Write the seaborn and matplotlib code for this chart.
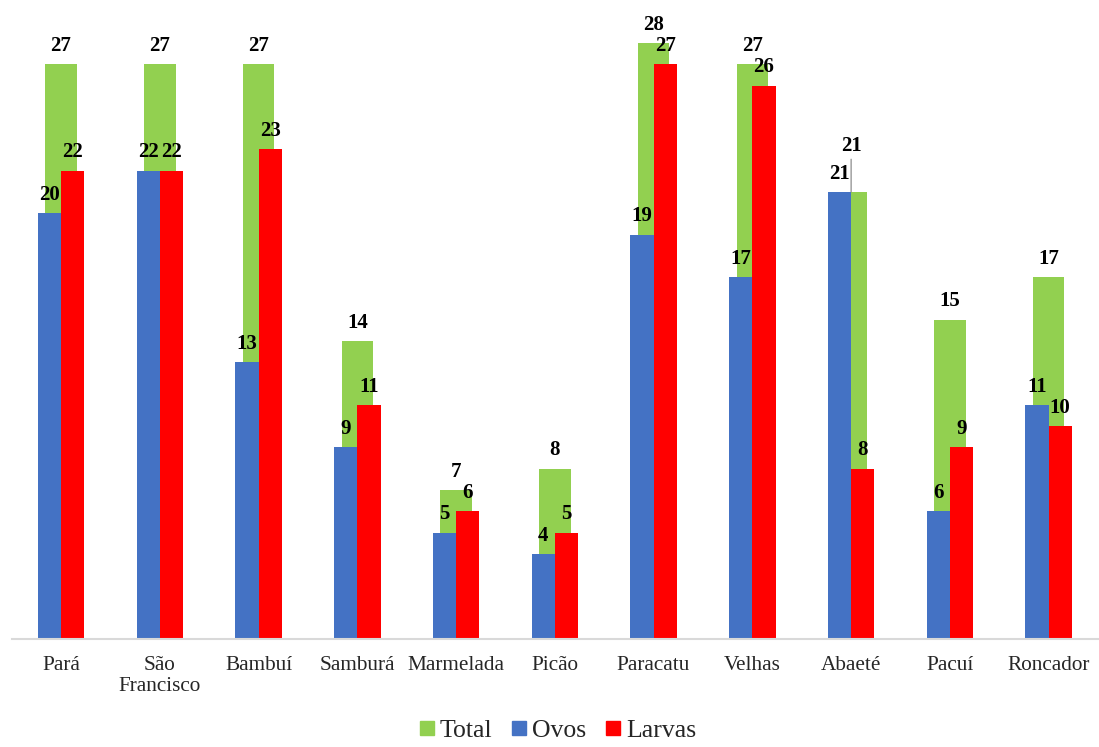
import pandas as pd
import matplotlib.pyplot as plt
import seaborn as sns
from matplotlib.lines import Line2D

# dados
rios = ['Pará', 'São\nFrancisco', 'Bambuí', 'Samburá', 'Marmelada', 'Picão',
        'Paracatu', 'Velhas', 'Abaeté', 'Pacuí', 'Roncador']
total = [27, 27, 27, 14, 7, 8, 28, 27, 21, 15, 17]
ovos = [20, 22, 13, 9, 5, 4, 19, 17, 21, 6, 11]
larvas = [22, 22, 23, 11, 6, 5, 27, 26, 8, 9, 10]

cores = {'Total': '#92D050', 'Ovos': '#4472C4', 'Larvas': '#FF0000'}

sns.set_style("white")
plt.rcParams['font.family'] = ['Liberation Serif', 'DejaVu Serif']

df_total = pd.DataFrame({'rio': rios, 'valor': total})
df_long = pd.DataFrame({
    'rio': rios * 2,
    'valor': ovos + larvas,
    'serie': ['Ovos'] * len(rios) + ['Larvas'] * len(rios),
})

fig = plt.figure(figsize=(10.99, 7.47), dpi=100)
ax = fig.add_axes([0.0106, 0.1446, 0.9885, 0.7978])

# barra do total atrás
sns.barplot(data=df_total, x='rio', y='valor', color=cores['Total'],
            width=0.32, errorbar=None, saturation=1, linewidth=0, ax=ax)
# ovos e larvas lado a lado
sns.barplot(data=df_long, x='rio', y='valor', hue='serie',
            hue_order=['Ovos', 'Larvas'],
            palette=[cores['Ovos'], cores['Larvas']],
            width=0.47, errorbar=None, saturation=1, linewidth=0,
            legend=False, ax=ax)

ax.set_ylim(0, 28)
ax.set_xlim(-0.5, len(rios) - 0.5)

# rótulos de valores
lbl_total = [str(v) if r != 'Abaeté' else '' for r, v in zip(rios, total)]
fonte_lbl = dict(fontsize=15, fontweight='bold', color='black')
ax.bar_label(ax.containers[0], labels=lbl_total, padding=6, **fonte_lbl)
ax.bar_label(ax.containers[1], padding=6, **fonte_lbl)
ax.bar_label(ax.containers[2], padding=6, **fonte_lbl)

# Abaeté: rótulo do total com linha de chamada
i = rios.index('Abaeté')
ax.annotate(str(total[i]), xy=(i, total[i]), xytext=(0, 26),
            textcoords='offset points', ha='center', va='bottom',
            arrowprops=dict(arrowstyle='-', color='#7f7f7f', lw=0.8,
                            shrinkA=0, shrinkB=0),
            **fonte_lbl)

sns.despine(ax=ax, left=True)
ax.spines['bottom'].set_color('#d9d9d9')
ax.spines['bottom'].set_linewidth(1.5)
ax.set_yticks([])
ax.set_xlabel('')
ax.set_ylabel('')
ax.tick_params(axis='x', length=0, pad=12, labelsize=15.3, labelcolor='#262626')
for t in ax.get_xticklabels():
    t.set_va('top')

handles = [Line2D([], [], marker='s', linestyle='none', markersize=10,
                  color=cores[k]) for k in ['Total', 'Ovos', 'Larvas']]
fig.legend(handles, ['Total', 'Ovos', 'Larvas'], loc='lower center',
           bbox_to_anchor=(0.505, -0.024), ncol=3, frameon=False, fontsize=18.5,
           handletextpad=0.0, columnspacing=0.55, handlelength=1.0,
           labelcolor='#262626')

fig.savefig('out.png', dpi=100)
